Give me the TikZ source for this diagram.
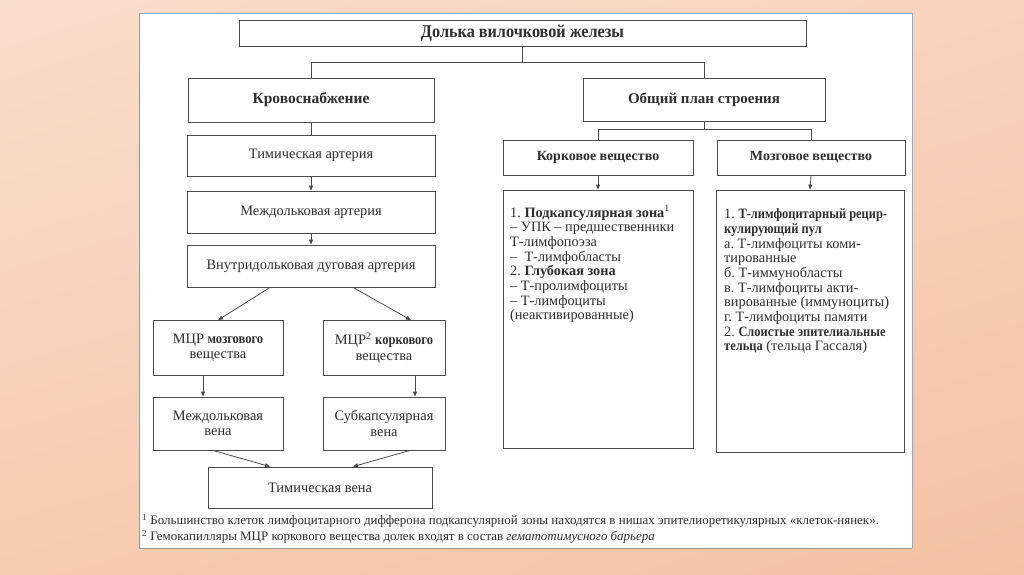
\documentclass[tikz,border=0pt]{standalone}
\usepackage{fontspec}
\setmainfont{Liberation Serif}
\newfontfamily\cbffam{Liberation Serif Bold}[FakeStretch=0.87]
\newfontfamily\titlefam{Liberation Serif Bold}[FakeStretch=0.9]
\newcommand\cb[1]{{\cbffam #1}}
\usetikzlibrary{arrows.meta,shadings}
\definecolor{textc}{HTML}{2E2E2E}
\definecolor{linec}{HTML}{4A4A4A}
\definecolor{bgA}{HTML}{F9DDCB}
\definecolor{bgB}{HTML}{F8D3BE}
\definecolor{bgC}{HTML}{F7CBB0}
\definecolor{bgD}{HTML}{F4C2A3}
\definecolor{panelblue}{HTML}{7FB3D5}
\definecolor{panelgrey}{HTML}{9A9A9A}
\tikzset{
  box/.style={draw=linec, line width=0.8pt, fill=white, text=textc, align=center, inner sep=1pt},
  head/.style={box, font=\fontsize{15.5}{18}\selectfont\bfseries},
  plain/.style={box, font=\fontsize{14.4}{15.5}\selectfont},
  conn/.style={draw=linec, line width=0.8pt},
  arr/.style={conn, -{Triangle[length=5pt,width=4pt]}},
  bodytext/.style={anchor=north west, align=left, inner sep=0pt, text=textc, font=\fontsize{14.3}{14.7}\selectfont},
  foot/.style={anchor=west, inner sep=0pt, text=textc, font=\fontsize{12.95}{14}\selectfont}
}
\begin{document}
\frenchspacing
\begin{tikzpicture}[x=1pt,y=-1pt]
\useasboundingbox (0,0) rectangle (1024,574);
\shade[upper left=bgA, upper right=bgB, lower left=bgC, lower right=bgD] (0,0) rectangle (1024,574);
\fill[white] (139,13) rectangle (912,548);
\draw[panelblue, line width=0.8pt] (139,13) -- (912,13) -- (912,548);
\draw[panelgrey, line width=0.8pt] (139,13) -- (139,548) -- (912,548);

% top
\node[head, font=\fontsize{18}{20}\selectfont\titlefam, minimum width=567pt, minimum height=26pt] (title) at (522.5,33) {Долька вилочковой железы};
\node[head, minimum width=246pt, minimum height=44pt] (krov) at (311,100) {Кровоснабжение};
\node[head, font=\fontsize{15}{18}\selectfont\bfseries, minimum width=242pt, minimum height=43pt] (plan) at (704,99.5) {Общий план строения};
\coordinate (j1) at (522.5,62);
\draw[conn] (title.south) -- (j1);
\draw[conn] (krov.north) |- (plan.north |- j1) -- (plan.north);

% left column
\node[plain, minimum width=248pt, minimum height=41pt] (timart) at (311,155.5) {Тимическая артерия};
\node[plain, minimum width=248pt, minimum height=42pt] (mezhart) at (311,212) {Междольковая артерия};
\node[plain, minimum width=248pt, minimum height=42pt] (vnutr) at (311,266) {Внутридольковая дуговая артерия};
\node[plain, minimum width=130pt, minimum height=55pt] (mcrm) at (218,348) {МЦР \cb{мозгового}\\вещества};
\node[plain, minimum width=122pt, minimum height=55pt] (mcrk) at (384,348) {МЦР\textsuperscript{2} \cb{коркового}\\вещества};
\node[plain, minimum width=130pt, minimum height=53pt] (mzven) at (218,423.5) {Междольковая\\вена};
\node[plain, minimum width=122pt, minimum height=53pt] (subven) at (384,423.5) {Субкапсулярная\\вена};
\node[plain, minimum width=224pt, minimum height=41pt] (timven) at (320,487.5) {Тимическая вена};

\draw[conn] (krov.south) -- (timart.north);
\draw[arr] (timart.south) -- (mezhart.north);
\draw[arr] (mezhart.south) -- (vnutr.north);
\draw[arr] ([xshift=-41pt]vnutr.south) -- (mcrm.north);
\draw[arr] ([xshift=42pt]vnutr.south) -- ([xshift=27pt]mcrk.north);
\draw[arr] ([xshift=-15pt]mcrm.south) -- ([xshift=-15pt]mzven.north);
\draw[arr] ([xshift=31pt]mcrk.south) -- ([xshift=31pt]subven.north);
\draw[arr] ([xshift=-5pt]mzven.south) -- ([xshift=-50pt]timven.north);
\draw[arr] ([xshift=26pt]subven.south) -- ([xshift=33pt]timven.north);

% right part
\node[head, font=\fontsize{14}{16}\selectfont\bfseries, minimum width=190pt, minimum height=35pt] (kork) at (598,157.5) {Корковое вещество};
\node[head, font=\fontsize{14}{16}\selectfont\bfseries, minimum width=188pt, minimum height=35pt] (mozg) at (811,157.5) {Мозговое вещество};
\coordinate (j2) at (704,129);
\draw[conn] (plan.south) -- (j2);
\draw[conn] (kork.north) |- (mozg.north |- j2) -- (mozg.north);

\node[box, minimum width=190pt, minimum height=258pt] (korkbig) at (598,319) {};
\node[box, minimum width=188pt, minimum height=262pt] (mozgbig) at (810,321) {};
\draw[arr] (kork.south) -- (korkbig.north);
\draw[arr] (mozg.south) -- (mozgbig.north);

\node[bodytext] (korktext) at (510,205) {1. \textbf{Подкапсулярная зона}\textsuperscript{1}\\
– УПК – предшественники\\
Т-лимфопоэза\\
–\ \ Т-лимфобласты\\
2. \textbf{Глубокая зона}\\
– Т-пролимфоциты\\
– Т-лимфоциты\\
(неактивированные)};

\node[bodytext] (mozgtext) at (724,208.5) {1. \cb{Т-лимфоцитарный рецир-}\\
\cb{кулирующий пул}\\
а. Т-лимфоциты коми-\\
тированные\\
б. Т-иммунобласты\\
в. Т-лимфоциты акти-\\
вированные (иммуноциты)\\
г. Т-лимфоциты памяти\\
2. \cb{Слоистые эпителиальные}\\
\cb{тельца} (тельца Гассаля)};

% footnotes
\node[foot] (fn1) at (142,521) {\textsuperscript{1} Большинство клеток лимфоцитарного дифферона подкапсулярной зоны находятся в нишах эпителиоретикулярных «клеток-нянек».};
\node[foot] (fn2) at (142,537) {\textsuperscript{2} Гемокапилляры МЦР коркового вещества долек входят в состав \textit{гематотимусного барьера}};
\end{tikzpicture}
\end{document}
